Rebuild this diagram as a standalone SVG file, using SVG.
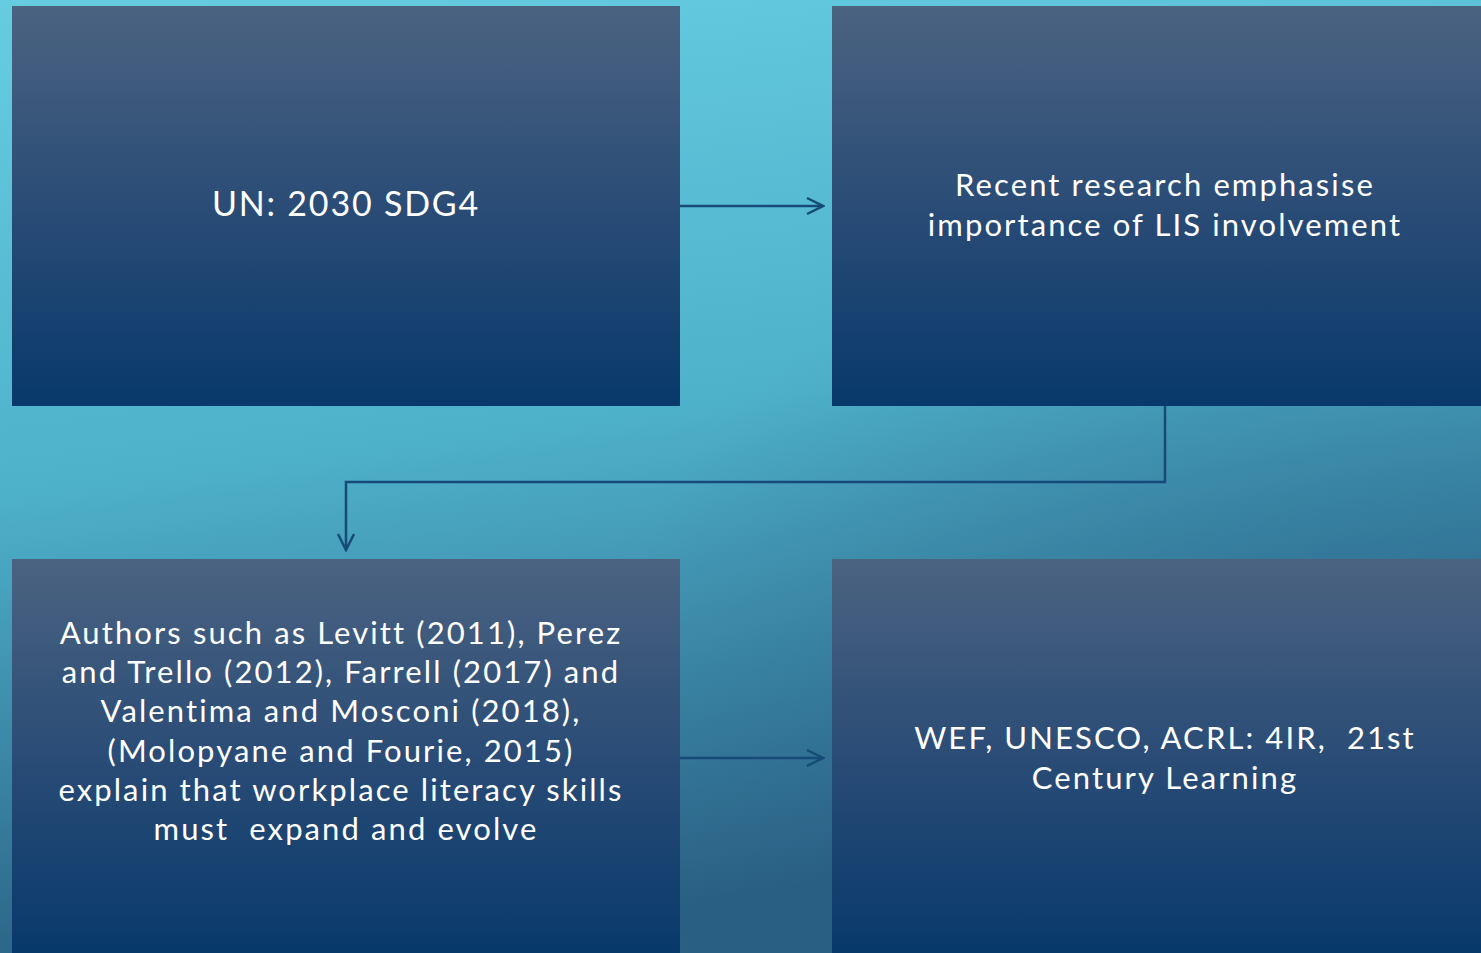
<svg xmlns="http://www.w3.org/2000/svg" width="1481" height="953" viewBox="0 0 1481 953">
<defs>
<linearGradient id="bg" x1="0" y1="0" x2="0.2" y2="1">
<stop offset="0" stop-color="#66CDE1"/>
<stop offset="0.5" stop-color="#4EB1CA"/>
<stop offset="1" stop-color="#2A6084"/>
</linearGradient>
<radialGradient id="bgshade" cx="1" cy="0.75" r="0.6">
<stop offset="0" stop-color="#1E4E78" stop-opacity="0.45"/>
<stop offset="1" stop-color="#1E4E78" stop-opacity="0"/>
</radialGradient>
<linearGradient id="box" x1="0" y1="0" x2="0" y2="1">
<stop offset="0" stop-color="#4B6381"/>
<stop offset="0.5" stop-color="#2A4C76"/>
<stop offset="1" stop-color="#08396B"/>
</linearGradient>
<marker id="arr" viewBox="0 0 20 20" refX="18" refY="10" markerWidth="20" markerHeight="20" markerUnits="userSpaceOnUse" orient="auto">
<path d="M2,2 L18,10 L2,18" fill="none" stroke="#174A77" stroke-width="2.5"/>
</marker>
<style>
.box{fill:url(#box)}
.t{font-family:"Century Gothic","URW Gothic","Lato","DejaVu Sans",sans-serif;fill:#FFFFFF;text-anchor:middle;letter-spacing:2.1px;font-variant-ligatures:none}
.c{fill:none;stroke:#174A77;stroke-width:2.5}
</style>
</defs>
<rect width="1481" height="953" fill="url(#bg)"/>
<rect width="1481" height="953" fill="url(#bgshade)"/>
<g id="connectors">
<path class="c" d="M680,206 H823" marker-end="url(#arr)"/>
<path class="c" d="M1165,406 V482 H346 V550" marker-end="url(#arr)"/>
<path class="c" d="M680,758 H823" marker-end="url(#arr)"/>
</g>
<g id="node1">
<rect class="box" x="12" y="6" width="668" height="400"/>
<text class="t" x="346" y="216" font-size="34" style="letter-spacing:1.8px">UN: 2030 SDG4</text>
</g>
<g id="node2">
<rect class="box" x="832" y="6" width="649" height="400"/>
<text class="t" x="1165" y="196" font-size="31">Recent research emphasise</text>
<text class="t" x="1165" y="236" font-size="31">importance of LIS involvement</text>
</g>
<g id="node3">
<rect class="box" x="12" y="559" width="668" height="394"/>
<text class="t" font-size="31">
<tspan x="346" y="644">Authors such as Levitt (2011), Perez</tspan>
<tspan x="346" y="683">and Trello (2012), Farrell (2017) and</tspan>
<tspan x="346" y="722">Valentima and Mosconi (2018),</tspan>
<tspan x="346" y="762">(Molopyane and Fourie, 2015)</tspan>
<tspan x="346" y="801">explain that workplace literacy skills</tspan>
<tspan x="346" y="840" xml:space="preserve">must  expand and evolve</tspan>
</text>
</g>
<g id="node4">
<rect class="box" x="832" y="559" width="649" height="394"/>
<text class="t" font-size="31" xml:space="preserve"><tspan x="1165" y="749">WEF, UNESCO, ACRL: 4IR,  21st</tspan><tspan x="1165" y="789">Century Learning</tspan></text>
</g>
</svg>
